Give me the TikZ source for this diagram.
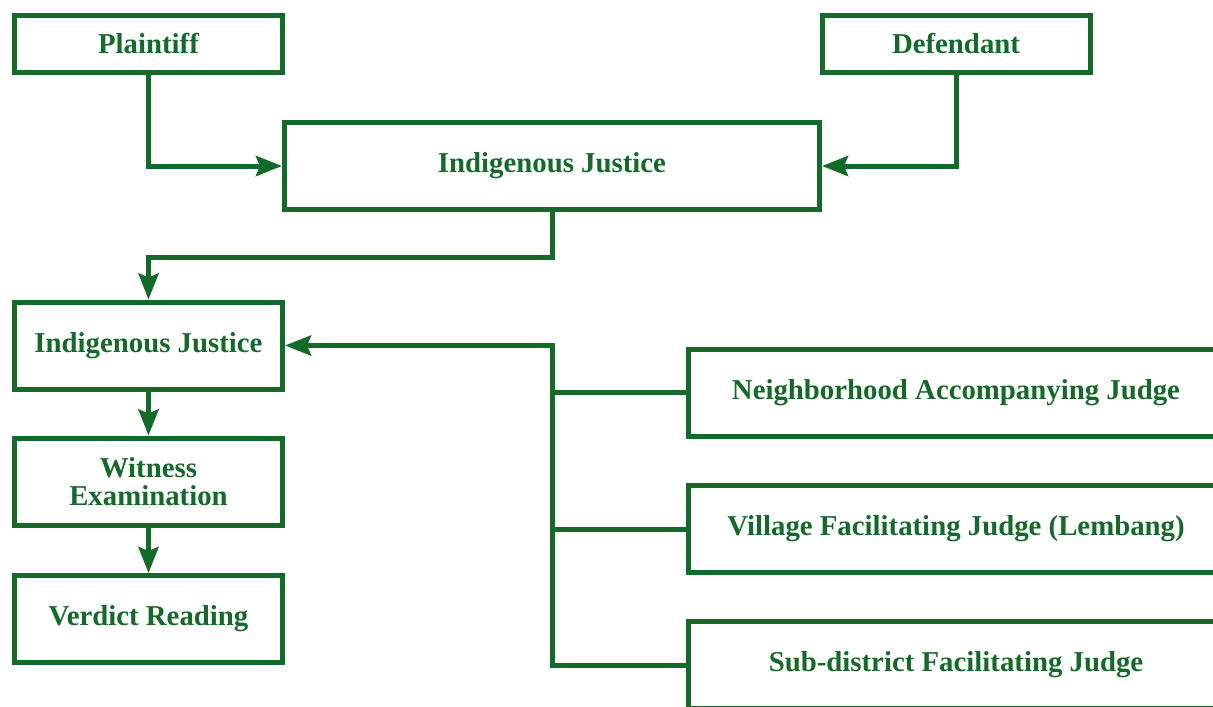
\documentclass[tikz,border=0pt]{standalone}
\usepackage{fontspec}
\setmainfont{Liberation Serif}
\usetikzlibrary{arrows.meta}
\definecolor{courtgreen}{RGB}{19,106,41}

\begin{document}
\begin{tikzpicture}[x=0.5pt, y=-0.5pt, color=courtgreen, line width=2.5pt,
      every node/.append style={font=\bfseries\fontsize{14.4}{14}\selectfont, align=center, inner sep=0pt},
      flow/.style={-{Stealth[length=13pt,width=10pt,inset=2pt]}}]
    \tikzstyle{party} = [draw, minimum width=134pt, minimum height=28.5pt]
    \tikzstyle{stage} = [draw, minimum width=134pt, minimum height=43.5pt]
    \tikzstyle{wide} = [draw, minimum width=267.5pt, minimum height=43.5pt]
    \useasboundingbox (0,0) rectangle (1213,706);
    \clip (0,0) rectangle (1213,706);
    % parties and first hearing
    \node (plaintiff) [party] at (148.5,44) {Plaintiff};
    \node (defendant) [party] at (956,44) {Defendant};
    \node (hearing) [wide] at (552,166) {Indigenous Justice};
    % trial steps
    \node (session) [stage] at (148.5,345.5) {Indigenous Justice};
    \node (witness) [stage] at (148.5,481.5) {Witness\\Examination};
    \node (verdict) [stage] at (148.5,619) {Verdict Reading};
    % judges
    \node (neighbour) [wide] at (956,392.5) {Neighborhood Accompanying Judge};
    \node (village) [wide] at (956,529) {Village Facilitating Judge (Lembang)};
    \node (subdistrict) [wide] at (956,665) {Sub-district Facilitating Judge};
    \coordinate (split) at (552,257);
    \coordinate (bus) at (552,345.5);
    \draw[flow] (plaintiff.south) |- (hearing.west);
    \draw[flow] (defendant.south) |- (hearing.east);
    \draw[flow] (hearing.south) -- (split) -| (session.north);
    \draw[flow] (session) -- (witness);
    \draw[flow] (witness) -- (verdict);
    \draw[flow] (subdistrict.west) -| (bus) -- (session.east);
    \draw (neighbour.west) -- (neighbour.west -| bus);
    \draw (village.west) -- (village.west -| bus);
\end{tikzpicture}
\end{document}
